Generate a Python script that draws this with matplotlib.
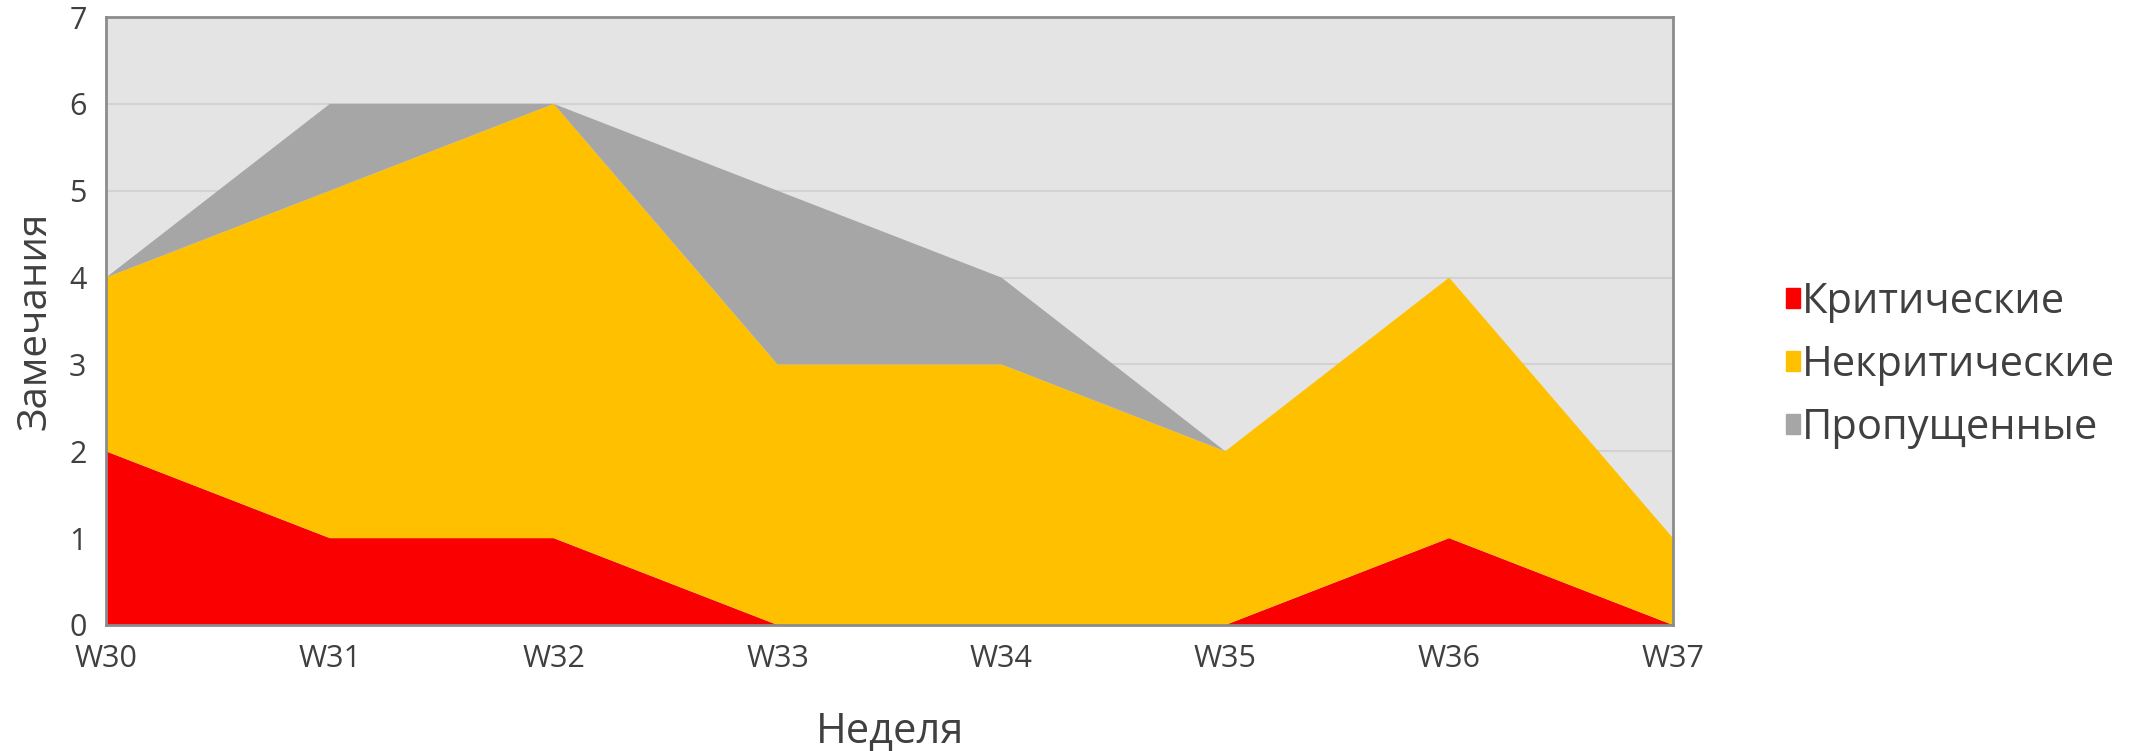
import matplotlib
matplotlib.use("Agg")
import matplotlib.pyplot as plt
import numpy as np
from matplotlib.patches import Patch

weeks = ["W30", "W31", "W32", "W33", "W34", "W35", "W36", "W37"]
critical = [2, 1, 1, 0, 0, 0, 1, 0]
noncritical = [2, 4, 5, 3, 3, 2, 3, 1]
missed = [0, 1, 0, 2, 1, 0, 0, 0]
labels = ["Критические", "Некритические", "Пропущенные"]
colors = ["#fa0000", "#ffc000", "#a6a6a6"]

plt.rcParams['font.family'] = ['Open Sans', 'DejaVu Sans']

fig = plt.figure(figsize=(21.41, 7.51), dpi=100)
ax = fig.add_axes([106/2141, 1-625/751, (1673-106)/2141, (625-17)/751])
x = np.arange(len(weeks))
ax.set_facecolor("#e4e4e4")
ax.stackplot(x, critical, noncritical, missed, colors=colors, labels=labels, zorder=2)
ax.set_xlim(0, len(weeks)-1)
ax.set_ylim(0, 7)
ax.set_yticks(range(0, 8))
ax.set_xticks(x)
ax.set_xticklabels(weeks)
ax.yaxis.grid(True, color="#d2d2d2", linewidth=1.5, zorder=1)
ax.set_axisbelow(True)
for s in ax.spines.values():
    s.set_color("#8c8c8c")
    s.set_linewidth(2)
ax.tick_params(axis='both', length=0, labelsize=22, colors="#404040")
ax.tick_params(axis='x', pad=14)
ax.tick_params(axis='y', pad=14)
ax.set_xlabel("Неделя", fontsize=30, color="#404040", labelpad=26)
ax.set_ylabel("Замечания", fontsize=29, color="#404040", labelpad=10)

handles = [Patch(color=c) for c in colors]
fig.legend(handles, labels, loc="center left", bbox_to_anchor=(1786/2141, 1-365/751),
           frameon=False, fontsize=30, handlelength=0.34, handleheight=0.34,
           handletextpad=0.05, labelspacing=0.5, labelcolor="#404040",
           borderpad=0, borderaxespad=0)

fig.savefig("out.png", dpi=100, facecolor="white")
